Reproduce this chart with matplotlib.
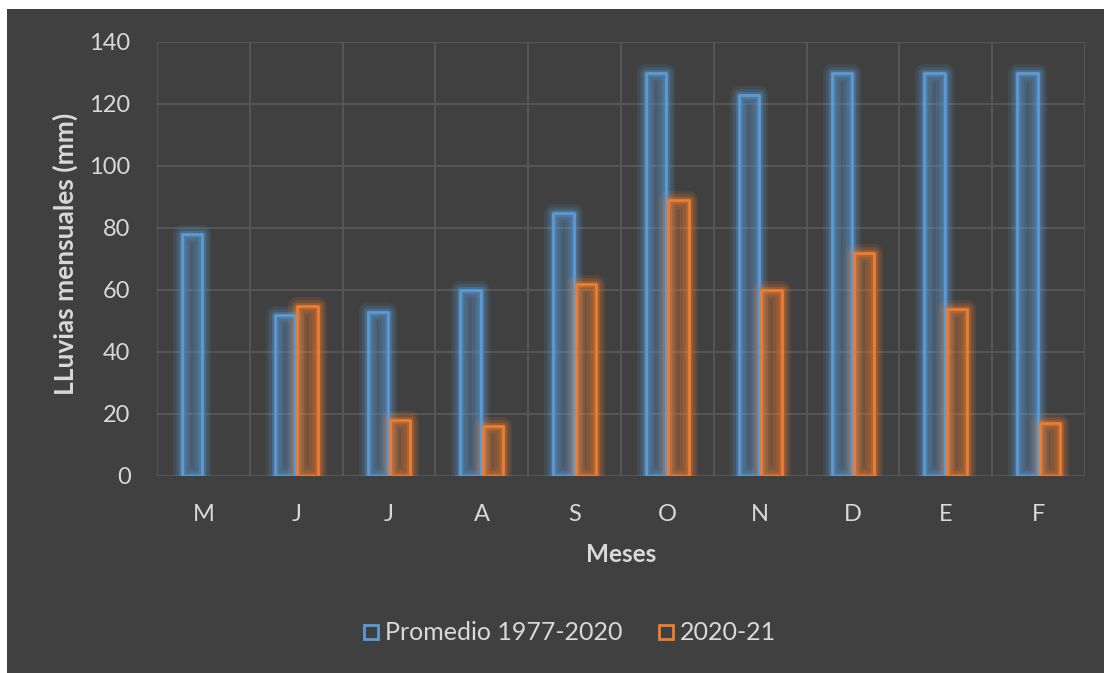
import matplotlib
matplotlib.use("Agg")
import matplotlib.pyplot as plt
import numpy as np
from matplotlib.patches import Rectangle
from matplotlib.lines import Line2D

# data
meses = ["M", "J", "J", "A", "S", "O", "N", "D", "E", "F"]
promedio = [78, 52, 53, 60, 85, 130, 123, 130, 130, 130]
lluvia_2020 = [np.nan, 55, 18, 16, 62, 89, 60, 72, 54, 17]

bg = "#404040"
txt = "#d9d9d9"
grid_c = "#5a5a5a"
azul = "#5b9bd5"
naranja = "#ed7d31"

plt.rcParams["font.family"] = ["Lato", "DejaVu Sans"]

fig = plt.figure(figsize=(11.04, 6.73), dpi=100)
fig.patch.set_facecolor("white")
fig.patches.append(Rectangle((7 / 1104, 0), 1, 1 - 9 / 673, transform=fig.transFigure,
                             facecolor=bg, edgecolor="none", zorder=-10))

ax = fig.add_axes([157 / 1104, 1 - 476 / 673, (1085 - 157) / 1104, (476 - 42) / 673])
ax.set_facecolor(bg)

x = np.arange(len(meses))
w = 0.22
off = 0.12


def glow_bars(xs, vals, col):
    xs = np.asarray(xs)
    vals = np.asarray(vals, dtype=float)
    ok = ~np.isnan(vals)
    xs, vals = xs[ok], vals[ok]
    # soft halo around each bar
    for lw, a in [(13, 0.12), (9, 0.18), (5, 0.3)]:
        ax.bar(xs, vals, w, facecolor="none", edgecolor=col, linewidth=lw,
               alpha=a, joinstyle="round", zorder=3)
    ax.bar(xs, vals, w, facecolor=col, alpha=0.3, edgecolor="none", zorder=3)
    ax.bar(xs, vals, w, facecolor="none", edgecolor=col, linewidth=2,
           joinstyle="round", zorder=4)


glow_bars(x - off, promedio, azul)
glow_bars(x + off, lluvia_2020, naranja)

ax.set_xlim(-0.5, len(meses) - 0.5)
ax.set_ylim(0, 140)
ax.set_yticks(np.arange(0, 141, 20))
ax.set_xticks(x)
ax.set_xticklabels(meses)
ax.set_xticks(np.arange(-0.5, len(meses), 1), minor=True)

ax.grid(axis="y", which="major", color=grid_c, linewidth=1.2, zorder=1)
ax.grid(axis="x", which="minor", color=grid_c, linewidth=1.2, zorder=1)
ax.grid(axis="x", which="major", visible=False)
ax.set_axisbelow(True)
for s in ax.spines.values():
    s.set_visible(False)

ax.tick_params(axis="both", which="both", length=0, colors=txt, labelsize=17)
ax.tick_params(axis="x", pad=20)
ax.tick_params(axis="y", pad=19)

fig.text(621 / 1104, 1 - 555 / 673, "Meses", color=txt, fontsize=17.5,
         fontweight="bold", ha="center", va="center")
fig.text(65 / 1104, 1 - 254 / 673, "LLuvias mensuales (mm)", color=txt, fontsize=19,
         fontweight="bold", rotation=90, ha="center", va="center")

handles = [
    Line2D([], [], marker="s", linestyle="none", markersize=10,
           markerfacecolor="none", markeredgecolor=azul, markeredgewidth=2),
    Line2D([], [], marker="s", linestyle="none", markersize=10,
           markerfacecolor="none", markeredgecolor=naranja, markeredgewidth=2),
]
fig.legend(handles, ["Promedio 1977-2020", "2020-21"], loc="center",
           bbox_to_anchor=(569 / 1104, 1 - 633 / 673), ncol=2, frameon=False,
           fontsize=18, labelcolor=txt, handletextpad=0.2, columnspacing=1.4,
           handlelength=0.7)

fig.savefig("out.png", dpi=100, facecolor=fig.get_facecolor())
